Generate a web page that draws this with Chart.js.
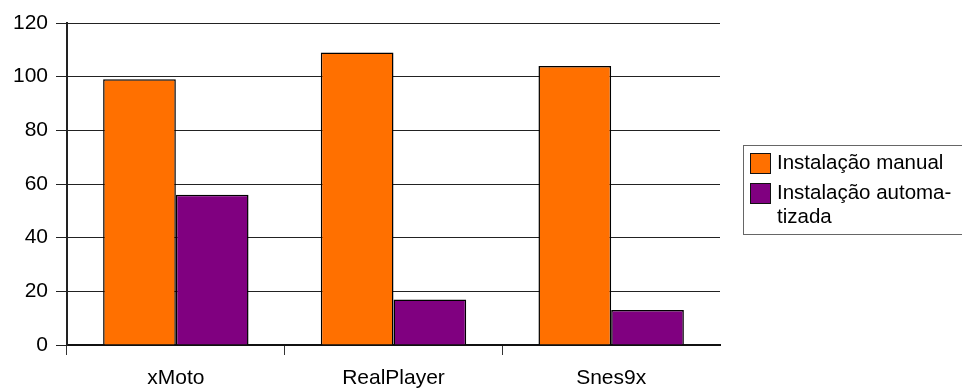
<!DOCTYPE html>
<html>
<head>
<meta charset="utf-8">
<script src="https://cdn.jsdelivr.net/npm/chart.js@4"></script>
<style>
  html, body { margin: 0; padding: 0; background: #fff; }
  #wrap { width: 962px; height: 389px; position: relative; }
</style>
</head>
<body>
<div id="wrap"><canvas id="myChart"></canvas></div>
<script>
const categories = ["xMoto", "RealPlayer", "Snes9x"];
const manual = [99, 109, 104];
const automatizada = [56, 17, 13];
const seriesLabels = ["Instalação manual", "Instalação automatizada"];
// how the legend text wraps in the original
const legendLines = [["Instalação manual"], ["Instalação automa-", "tizada"]];
const yTicks = [0, 20, 40, 60, 80, 100, 120];

const FONT = "'Liberation Sans', Arial, sans-serif";

// legend box drawn by hand, to keep the boxed look of the original
const boxLegend = {
  id: "boxLegend",
  afterDraw(chart) {
    const ctx = chart.ctx;
    const x0 = 743, y0 = 145, w = 230, h = 89;
    ctx.save();
    ctx.strokeStyle = "#666";
    ctx.lineWidth = 1;
    ctx.strokeRect(x0 + 0.5, y0 + 0.5, w, h);
    ctx.font = "20.5px " + FONT;
    ctx.textBaseline = "middle";
    let y = y0 + 18;
    chart.data.datasets.forEach((ds, i) => {
      ctx.fillStyle = ds.backgroundColor;
      ctx.fillRect(750, y - 10, 20, 20);
      ctx.strokeStyle = "#111";
      ctx.strokeRect(750.5, y - 9.5, 20, 20);
      ctx.fillStyle = "#000";
      legendLines[i].forEach((line, j) => {
        ctx.fillText(line, 777, y + j * 24);
      });
      y += 30;
    });
    ctx.restore();
  }
};

// no tick mark at the far right end of the category axis
const xTickColor = (c) => (c.type !== "tick" || c.index >= categories.length) ? "rgba(0,0,0,0)" : "#333";

new Chart(document.getElementById("myChart"), {
  type: "bar",
  data: {
    labels: categories,
    datasets: [
      {
        label: seriesLabels[0],
        data: manual,
        backgroundColor: "#ff7000",
        borderColor: "#000",
        borderWidth: 1.5
      },
      {
        label: seriesLabels[1],
        data: automatizada,
        backgroundColor: "#800080",
        borderColor: "#000",
        borderWidth: 1.5
      }
    ]
  },
  options: {
    responsive: true,
    maintainAspectRatio: false,
    animation: false,
    layout: { padding: { top: 23, right: 242, left: 0, bottom: 0 } },
    plugins: {
      legend: { display: false },
      tooltip: { enabled: false }
    },
    datasets: {
      bar: { categoryPercentage: 0.668, barPercentage: 1 }
    },
    scales: {
      x: {
        grid: {
          offset: true,
          drawOnChartArea: false,
          color: xTickColor,
          tickColor: xTickColor,
          tickLength: 10
        },
        border: { color: "#111", width: 2 },
        ticks: { color: "#000", font: { family: FONT, size: 21 }, padding: 11 },
        afterFit: (scale) => { scale.height = 44; }
      },
      y: {
        min: 0,
        max: 120,
        afterBuildTicks: (scale) => { scale.ticks = yTicks.map(v => ({ value: v })); },
        grid: { color: "#222", lineWidth: 1, tickLength: 11 },
        border: { color: "#222", width: 2 },
        ticks: { color: "#000", font: { family: FONT, size: 21 }, padding: 8 },
        afterFit: (scale) => { scale.width = 67; }
      }
    }
  },
  plugins: [boxLegend]
});
</script>
</body>
</html>
